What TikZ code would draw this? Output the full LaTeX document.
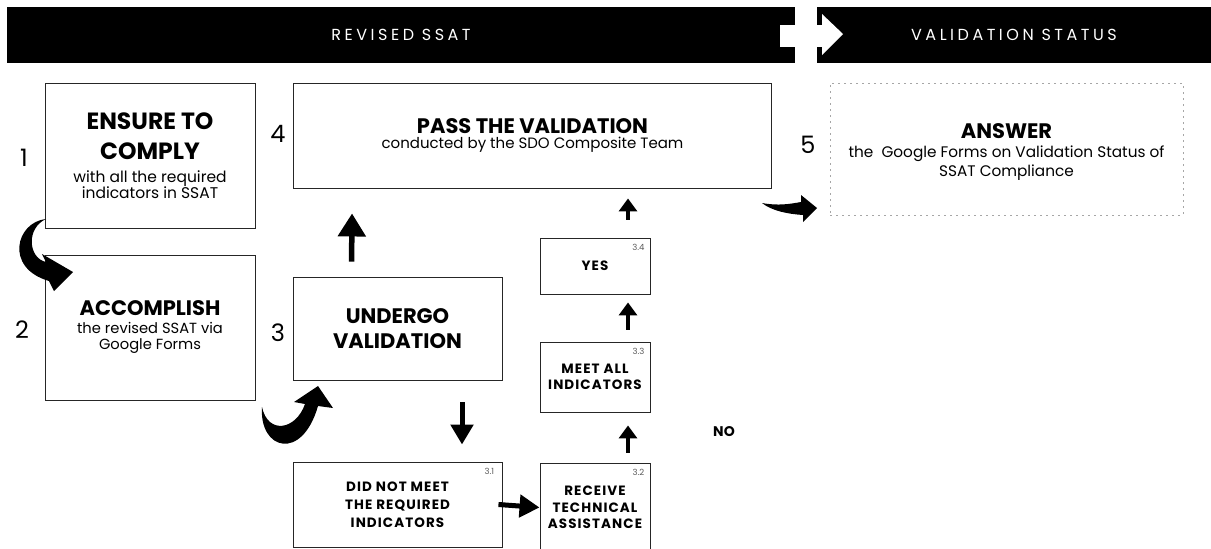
\documentclass[tikz,border=0pt]{standalone}
\usepackage{fontspec}
\setmainfont{Poppins}
\usetikzlibrary{arrows.meta,calc}
\newcommand\TitA{\fontsize{23.5}{16}\selectfont\bfseries}
\newcommand\TitB{\fontsize{21}{16}\selectfont\bfseries}
\newcommand\TitC{\fontsize{21}{16}\selectfont\bfseries}
\begin{document}
\begin{tikzpicture}[x=1pt,y=-1pt,
  hdr/.style={fill=black,text=white,inner sep=0pt,font=\fontsize{16}{18}\selectfont\addfontfeatures{LetterSpace=22}},
  box/.style={draw=black!85,line width=0.9pt,inner sep=0pt,align=center,font=\fontsize{13}{16}\selectfont},
  sbox/.style={draw=black!85,line width=0.9pt,inner sep=0pt,align=center,minimum width=110,font=\fontsize{13.5}{16.5}\selectfont\bfseries\addfontfeatures{LetterSpace=8}},
  numlbl/.style={inner sep=0pt,font=\fontsize{24}{24}\selectfont},
  sublbl/.style={inner sep=0pt,text=black!65,font=\fontsize{8.5}{9}\selectfont},
  fatA/.style={line width=5.5pt,-{Triangle[width=27pt,length=23pt]}},
  fatB/.style={line width=4pt,-{Triangle[width=18pt,length=13pt]}},
  fatC/.style={line width=5pt,-{Triangle[width=22pt,length=20pt]}}
]
\useasboundingbox (0,0) rectangle (1211,549);
% header
\node[hdr,minimum width=788,minimum height=56] (hl) at (401,35) {REVISED SSAT};
\node[hdr,minimum width=394,minimum height=56] (hr) at (1014,35) {VALIDATION STATUS};
\fill[white] (780,25) rectangle (823,47);
\fill[white] (822,14) -- (843,34) -- (822,55) -- cycle;
% main boxes
\node[box,minimum width=210,minimum height=145,font=\fontsize{15.5}{19}\selectfont] (n1) at (150,155.5)
  {{\TitA ENSURE TO}\\[11pt]{\TitA COMPLY}\\[4pt]with all the required\\[-3pt]indicators in SSAT};
\node[box,minimum width=210,minimum height=145,font=\fontsize{14.7}{16}\selectfont] (n2) at (150,327.5)
  {{\TitB ACCOMPLISH}\\[2pt]the revised SSAT via\\Google Forms};
\node[box,minimum width=209,minimum height=103,font=\fontsize{21}{25}\selectfont\bfseries] (n3) at (397.5,328.5)
  {UNDERGO\\VALIDATION};
\node[box,minimum width=478,minimum height=105,font=\fontsize{15}{15}\selectfont] (n4) at (532.5,135.5)
  {{\TitC PASS THE VALIDATION}\\conducted by the SDO Composite Team};
\node[box,draw=black!35,line width=0.6pt,dash pattern=on 2pt off 4pt,minimum width=353,minimum height=132,font=\fontsize{15.3}{19}\selectfont] (n5) at (1006.5,149)
  {\rule{0pt}{21pt}{\TitC ANSWER}\\the~ Google Forms on Validation Status of\\SSAT Compliance};
% sub boxes
\node[sbox,minimum width=209,minimum height=85,font=\fontsize{13.5}{18}\selectfont\bfseries\addfontfeatures{LetterSpace=8}] (n31) at (397.5,504.5)
  {DID NOT MEET\\THE REQUIRED\\INDICATORS};
\node[sbox,minimum height=89] (n32) at (595,507.5) {RECEIVE\\TECHNICAL\\ASSISTANCE};
\node[sbox,minimum height=70] (n33) at (595,377) {MEET ALL\\INDICATORS};
\node[sbox,minimum height=56] (n34) at (595,266) {YES};
\node[sublbl] (l31) at ($(n31.north east)+(-13,10)$) {3.1};
\node[sublbl] (l32) at ($(n32.north east)+(-12,10)$) {3.2};
\node[sublbl] (l33) at ($(n33.north east)+(-12,10)$) {3.3};
\node[sublbl] (l34) at ($(n34.north east)+(-12,10)$) {3.4};
\node[inner sep=0pt,font=\fontsize{14}{14}\selectfont\bfseries] (no) at (724,432) {NO};
% numbers
\node[numlbl] (k1) at (24,158) {1};
\node[numlbl] (k2) at (22,330) {2};
\node[numlbl] (k3) at (278,333) {3};
\node[numlbl] (k4) at (278,134) {4};
\node[numlbl] (k5) at (808,145) {5};
% straight arrows
\draw[fatA] ($(n3.north west)+(59,-15)$) -- ($(n4.south west)+(59,25)$);
\draw[fatB] ($(n34.north)+(33,-18)$) -- ($(n34.north |- n4.south)+(33,10)$);
\draw[fatB] ($(n33.north)+(33,-12)$) -- ($(n34.south)+(33,8)$);
\draw[fatB] ($(n32.north)+(33,-10)$) -- ($(n33.south)+(33,13)$);
\draw[fatC] ($(n3.south)+(64.5,22)$) -- ($(n31.north)+(64.5,-17)$);
\draw[fatC] ($(n31.east)+(-4,0)$) -- (n32.west);
% curved arrows
\fill (46,219) .. controls (16,222) and (4,268) .. (49,281) -- (54,291) -- (73,272) -- (42,254) -- (46,262)
  .. controls (28,258) and (26,228) .. (46,219) -- cycle;
\fill (262,407) .. controls (259,450) and (302,462) .. (318,406) -- (333,408) -- (318,386) -- (294,402) -- (305,404)
  .. controls (296,430) and (268,435) .. (262,407) -- cycle;
\fill (762,203) .. controls (778,206) and (790,204) .. (801,202) -- (801,195) -- (817,208) -- (803,222) -- (803,215)
  .. controls (788,214) and (772,211) .. (762,203) -- cycle;
\end{tikzpicture}
\end{document}
